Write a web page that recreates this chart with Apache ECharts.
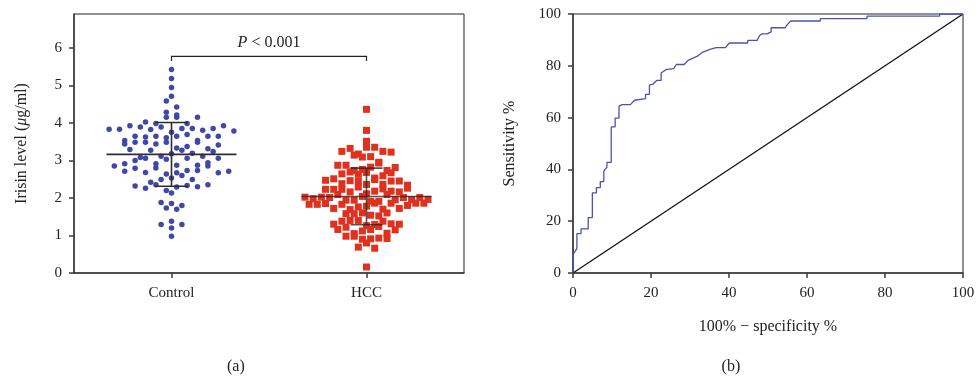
<!DOCTYPE html>
<html><head><meta charset="utf-8">
<script src="https://cdn.jsdelivr.net/npm/echarts@6/dist/echarts.min.js"></script>
<style>html,body{margin:0;padding:0;background:#fff}#c{width:979px;height:381px}</style>
</head><body><div id="c"></div>
<script>
// ---------- data ----------
const groups = ['Control', 'HCC'];
const controlValues = [
  4.02, 3.83,
  3.98, 3.83, 3.53, 2.85, 2.71,
  3.92, 3.64, 3.44, 3.29, 3.08, 2.79, 2.32,
  4.15, 3.89, 3.62, 3.48, 3.27, 3.11, 2.91, 2.68, 2.42,
  4.15, 3.98, 3.82, 3.64, 3.48, 3.18, 3.00, 2.80, 2.64, 2.49, 2.26, 1.88, 1.73,
  4.58, 4.15, 3.89, 3.75, 3.60, 3.44, 3.27, 3.06, 2.91, 2.67, 2.53, 2.35, 2.20, 1.85, 1.70, 1.29,
  5.42, 5.18, 4.94, 4.42, 0.98,
  4.71, 3.85, 3.64, 3.48, 3.33, 3.19, 3.03, 2.87, 2.73, 2.29, 2.13, 1.80, 1.38, 1.20,
  4.28, 3.69, 3.53, 3.37, 3.06, 2.87, 2.60, 2.33, 1.29,
  4.21, 3.85, 3.64, 3.48, 3.31, 3.11, 2.94, 2.73, 2.30,
  3.80, 3.64, 3.41, 3.24, 3.06, 2.85, 2.67, 2.49, 2.35,
  3.85, 2.71,
  3.92, 3.78
];
const hccValues = [
  2.02,
  1.98, 1.83,
  2.23, 2.02, 1.83,
  2.23, 2.01, 1.85,
  2.64, 2.47, 2.23, 2.09, 1.94, 1.72, 1.58, 1.30, 1.16, 0.98,
  3.24, 2.87, 2.69, 2.51, 2.38, 2.16, 1.83, 1.69, 1.38, 0.98,
  3.32, 3.17, 2.87, 2.73, 2.46, 2.29, 2.11, 1.94, 1.76, 1.58, 1.40, 1.22, 1.05, 0.90,
  3.35, 3.14, 2.76, 2.63, 2.45, 2.18, 2.04, 1.91, 1.40, 1.26, 1.12, 0.91, 0.69,
  4.36, 3.80, 3.51, 0.16,
  3.35, 3.09, 2.82, 2.68, 2.53, 2.24, 1.91, 1.78, 1.60, 1.29, 1.16, 0.80, 0.66,
  3.24, 3.10, 2.93, 2.73, 2.59, 2.36, 2.18, 1.86, 1.70, 1.54, 1.38, 1.24, 0.93,
  3.22, 2.95, 2.81, 2.67, 2.49, 2.36, 2.16, 1.86, 1.72, 1.52, 1.31, 1.06, 0.92,
  2.45, 2.09, 1.95, 1.80, 1.60, 1.30, 1.15,
  2.45, 2.26, 2.01, 1.86,
  2.34, 1.95,
  2.01, 1.86,
  1.96
];
const groupMeans = [3.16, 2.04];
const groupSDs = [0.85, 0.755];
const pLabel = ['P', ' < 0.001'];
const yTicksA = [0, 1, 2, 3, 4, 5, 6];
const yLabelA = ['Irisin level (', 'μ', 'g/ml)'];

const rocFpr = [0,0,1.0,1.0,2.05,2.05,3.9,3.9,4.96,4.96,6.0,6.0,7.0,7.0,7.9,7.9,8.7,8.7,9.8,9.8,10.8,10.8,11.8,11.8,12.6,14.7,15.8,18.6,18.6,19.6,19.6,20.5,21.5,22.6,22.6,23.8,25.8,26.5,28.5,29.5,31.9,33.3,35.3,36.7,39.1,40.1,44.8,44.8,47.2,47.9,48.5,49.8,50.8,50.8,54.4,54.9,55.8,63.4,63.4,75.4,75.4,94.0,94.0,100];
const rocTpr = [0,7.2,9.4,15.2,15.2,17.0,17.0,21.4,21.4,30.9,30.9,33.0,33.0,35.3,35.3,39.4,40.9,42.7,42.7,56.4,56.4,59.8,59.8,64.4,65.0,65.0,66.7,67.3,69.0,69.0,72.5,72.9,74.4,74.4,77.2,78.5,78.9,80.5,80.5,82.1,83.7,85.3,86.4,87.0,87.0,88.8,88.8,89.8,89.8,91.8,92.3,92.3,93.1,94.7,94.7,95.8,97.3,97.3,98.2,98.2,99.2,99.2,100,100];
const diagX = [0, 100];
const diagY = [0, 100];
const xNameB = '100% − specificity %';
const yNameB = 'Sensitivity %';
const panelLabels = ['(a)', '(b)'];

// ---------- layout helpers ----------
const FONT = 'Liberation Serif';
const TXT = '#222';
const AX = '#3a3a3a';
const gridA = {left: 74, top: 14, width: 390, bottom: 108};
const gridB = {left: 573, top: 14, width: 390, bottom: 108};
const unitPx = gridA.width / 2; // x range 0..2

function swarm(values, center, binH, stepPx) {
  const step = stepPx / unitPx;
  const bins = new Map();
  values.forEach(v => {
    const k = Math.floor(v / binH);
    if (!bins.has(k)) bins.set(k, []);
    bins.get(k).push(v);
  });
  const out = [];
  bins.forEach(arr => {
    const n = arr.length;
    arr.forEach((v, i) => out.push([center + (i - (n - 1) / 2) * step, v]));
  });
  return out;
}

const controlPts = swarm(controlValues, 0.5, 0.22, 10.4);
const hccPts = swarm(hccValues, 1.5, 0.21, 8.2);

const axisLine = {show: true, lineStyle: {color: AX, width: 1.5}};
const axisTick = {show: true, length: 5, inside: false, lineStyle: {color: AX, width: 1.5}};
const lab = {color: TXT, fontFamily: FONT, fontSize: 15};

const chart = echarts.init(document.getElementById('c'), null, {renderer: 'canvas'});
chart.setOption({
  animation: false,
  backgroundColor: '#fff',
  grid: [
    Object.assign({show: true, borderColor: '#222', borderWidth: 1, containLabel: false}, gridA),
    Object.assign({show: true, borderColor: '#222', borderWidth: 1, containLabel: false}, gridB)
  ],
  xAxis: [
    {gridIndex: 0, type: 'value', min: 0, max: 2,
     axisLine, splitLine: {show: false},
     axisTick: Object.assign({customValues: [0.5, 1.5]}, axisTick),
     axisLabel: Object.assign({customValues: [0.5, 1.5], margin: 13,
       formatter: v => groups[Math.round(v - 0.5)]}, lab)},
    {gridIndex: 1, type: 'value', min: 0, max: 100, interval: 20,
     axisLine, axisTick, splitLine: {show: false},
     axisLabel: Object.assign({margin: 13}, lab),
     name: xNameB, nameLocation: 'middle', nameGap: 46,
     nameTextStyle: {color: TXT, fontFamily: FONT, fontSize: 16}}
  ],
  yAxis: [
    {gridIndex: 0, type: 'value', min: 0, max: 6.9,
     axisLine, splitLine: {show: false},
     axisTick: Object.assign({customValues: yTicksA}, axisTick),
     axisLabel: Object.assign({customValues: yTicksA, margin: 12}, lab),
     name: yLabelA[0] + '{i|' + yLabelA[1] + '}' + yLabelA[2],
     nameLocation: 'middle', nameGap: 44, nameRotate: 90,
     nameTextStyle: {color: TXT, fontFamily: FONT, fontSize: 16,
       rich: {i: {fontStyle: 'italic', fontFamily: FONT, fontSize: 16, color: TXT}}}},
    {gridIndex: 1, type: 'value', min: 0, max: 100, interval: 20,
     axisLine, axisTick, splitLine: {show: false},
     axisLabel: Object.assign({margin: 12}, lab),
     name: yNameB, nameLocation: 'middle', nameGap: 55, nameRotate: 90,
     nameTextStyle: {color: TXT, fontFamily: FONT, fontSize: 16}}
  ],
  series: [
    {type: 'scatter', xAxisIndex: 0, yAxisIndex: 0, data: controlPts,
     symbol: 'circle', symbolSize: 5.5, itemStyle: {color: '#3f47a8', opacity: 1}, z: 2},
    {type: 'scatter', xAxisIndex: 0, yAxisIndex: 0, data: hccPts,
     symbol: 'rect', symbolSize: 7, itemStyle: {color: '#e0301e', opacity: 1}, z: 2},
    {type: 'custom', xAxisIndex: 0, yAxisIndex: 0, z: 5,
     encode: {x: 0, y: 1},
     data: groupMeans.map((m, i) => [i + 0.5, m, groupSDs[i]]),
     renderItem(params, api) {
       const cx = api.value(0), m = api.value(1), sd = api.value(2);
       const pm = api.coord([cx, m]), pu = api.coord([cx, m + sd]), pl = api.coord([cx, m - sd]);
       const style = {stroke: params.dataIndex === 0 ? '#2e2e2e' : 'rgba(40,40,40,0.8)', lineWidth: 1.6};
       return {type: 'group', children: [
         {type: 'line', shape: {x1: pm[0] - 65, y1: pm[1], x2: pm[0] + 65, y2: pm[1]}, style},
         {type: 'line', shape: {x1: pu[0], y1: pu[1], x2: pl[0], y2: pl[1]}, style},
         {type: 'line', shape: {x1: pu[0] - 16, y1: pu[1], x2: pu[0] + 16, y2: pu[1]}, style},
         {type: 'line', shape: {x1: pl[0] - 16, y1: pl[1], x2: pl[0] + 16, y2: pl[1]}, style}
       ]};
     }},
    {type: 'custom', xAxisIndex: 0, yAxisIndex: 0, z: 6,
     encode: {x: [0, 1], y: 2},
     data: [[0.5, 1.5, 5.77]],
     renderItem(params, api) {
       const a = api.coord([api.value(0), api.value(2)]);
       const b = api.coord([api.value(1), api.value(2)]);
       return {type: 'group', children: [
         {type: 'polyline', shape: {points: [[a[0], a[1] + 4.5], [a[0], a[1]], [b[0], b[1]], [b[0], b[1] + 4.5]]},
          style: {stroke: '#222', lineWidth: 1.2, fill: null}},
         {type: 'text', x: (a[0] + b[0]) / 2, y: a[1] - 6,
          style: {text: '{i|' + pLabel[0] + '}' + pLabel[1],
            rich: {i: {fontStyle: 'italic', fontFamily: FONT, fontSize: 16, fill: TXT}},
            fontFamily: FONT, fontSize: 16, fill: TXT, align: 'center', verticalAlign: 'bottom'}}
       ]};
     }},
    {type: 'line', xAxisIndex: 1, yAxisIndex: 1, data: diagX.map((x, i) => [x, diagY[i]]),
     showSymbol: false, lineStyle: {color: '#111', width: 1.3}, z: 3},
    {type: 'line', xAxisIndex: 1, yAxisIndex: 1, data: rocFpr.map((x, i) => [x, rocTpr[i]]),
     showSymbol: false, lineStyle: {color: '#4a53b3', width: 1.3}, z: 4}
  ],
  graphic: [
    {type: 'text', x: gridA.left + gridA.width * 0.415, y: 367,
     style: {text: panelLabels[0], fontFamily: FONT, fontSize: 16, fill: TXT, align: 'center', verticalAlign: 'middle'}},
    {type: 'text', x: gridB.left + gridB.width * 0.405, y: 367,
     style: {text: panelLabels[1], fontFamily: FONT, fontSize: 16, fill: TXT, align: 'center', verticalAlign: 'middle'}}
  ]
});
</script>
</body></html>
